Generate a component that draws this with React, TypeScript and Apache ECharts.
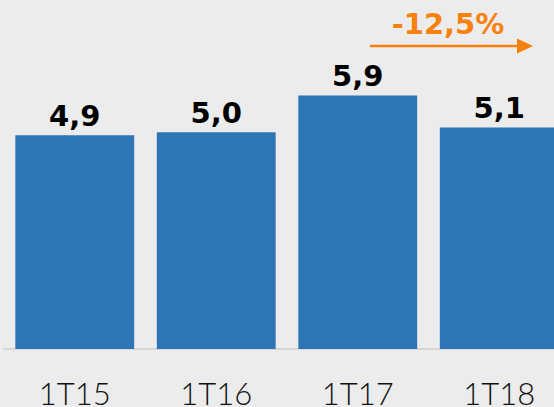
import React, { useEffect, useRef } from "react";
import * as echarts from "echarts";

const categories = ["1T15", "1T16", "1T17", "1T18"];
const values = [4.94, 5.01, 5.86, 5.12];
const changeLabel = "-12,5%";

const BG = "#ececec";
const BAR = "#2e75b6";
const ORANGE = "#f7810f";

export default function App() {
  const ref = useRef<HTMLDivElement>(null);
  useEffect(() => {
    document.body.style.margin = "0";
    const chart = echarts.init(ref.current!, null, { renderer: "svg" });
    chart.setOption({
      animation: false,
      backgroundColor: BG,
      grid: {
        left: 4,
        width: 566,
        top: 3,
        bottom: 58,
        containLabel: false,
        outerBoundsMode: "none",
      },
      xAxis: {
        type: "category",
        data: categories,
        axisLine: { show: true, lineStyle: { color: "#d6d6d6", width: 2 } },
        axisTick: { show: false },
        axisLabel: {
          margin: 28,
          fontFamily: "Lato",
          fontWeight: 300,
          fontSize: 31,
          color: "#111",
          interval: 0,
        },
      },
      yAxis: {
        type: "value",
        min: 0,
        max: 8,
        show: false,
        splitLine: { show: false },
      },
      series: [
        {
          type: "bar",
          data: values,
          barCategoryGap: "16%",
          itemStyle: { color: BAR },
          label: {
            show: true,
            position: "top",
            distance: 5,
            fontFamily: "DejaVu Sans",
            fontWeight: "bold",
            fontSize: 29,
            color: "#000",
            formatter: (p: any) => p.value.toFixed(1).replace(".", ","),
          },
        },
      ],
      graphic: [
        {
          type: "text",
          x: 448,
          y: 24,
          style: {
            text: changeLabel,
            fontFamily: "DejaVu Sans",
            fontWeight: "bold",
            fontSize: 29,
            fill: ORANGE,
            align: "center",
            verticalAlign: "middle",
          },
        },
        {
          type: "line",
          shape: { x1: 370, y1: 46, x2: 520, y2: 46 },
          style: { stroke: ORANGE, lineWidth: 2.5 },
        },
        {
          type: "polygon",
          shape: { points: [[517, 38.5], [533, 46], [517, 53.5]] },
          style: { fill: ORANGE },
        },
      ],
    });
    return () => chart.dispose();
  }, []);
  return <div ref={ref} style={{ width: 554, height: 407, background: BG }} />;
}
